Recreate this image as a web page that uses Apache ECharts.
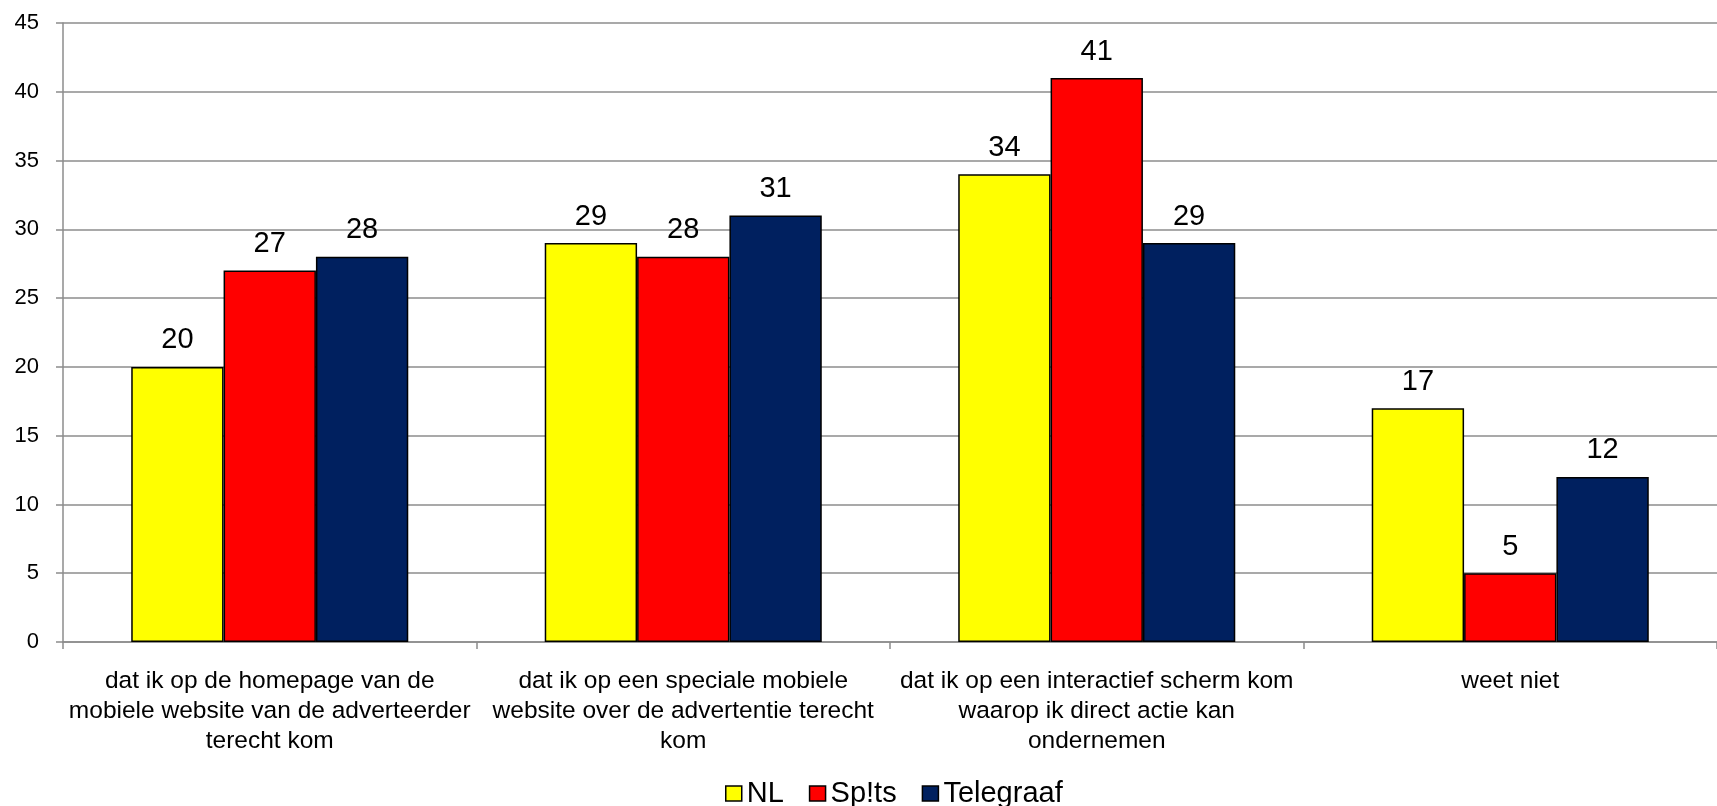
<!DOCTYPE html>
<html>
<head>
<meta charset="utf-8">
<script src="https://cdn.jsdelivr.net/npm/echarts@6/dist/echarts.min.js"></script>
<style>
  html, body { margin: 0; padding: 0; background: #fff; }
  #chart { width: 1717px; height: 806px; }
</style>
</head>
<body>
<div id="chart"></div>
<script>
// Survey answers per newspaper audience (percent)
const categories = [
  'dat ik op de homepage van de\nmobiele website van de adverteerder\nterecht kom',
  'dat ik op een speciale mobiele\nwebsite over de advertentie terecht\nkom',
  'dat ik op een interactief scherm kom\nwaarop ik direct actie kan\nondernemen',
  'weet niet'
];
const seriesNames = ['NL', 'Sp!ts', 'Telegraaf'];
const nlValues = [20, 29, 34, 17];
const spitsValues = [27, 28, 41, 5];
const telegraafValues = [28, 31, 29, 12];
const seriesColors = ['#FFFF00', '#FF0000', '#00205F'];

const chart = echarts.init(document.getElementById('chart'));

const valueLabel = {
  show: true,
  position: 'top',
  distance: 12,
  color: '#000',
  fontFamily: 'Liberation Sans, Arial, sans-serif',
  fontSize: 29
};

function barSeries(name, values, color) {
  return {
    name: name,
    type: 'bar',
    data: values,
    barGap: '0%',
    barCategoryGap: '33%',
    itemStyle: { color: color, borderColor: '#000', borderWidth: 1.5 },
    label: valueLabel,
    emphasis: { disabled: true }
  };
}

chart.setOption({
  animation: false,
  backgroundColor: '#fff',
  grid: { left: 63, top: 23, right: -12, bottom: 164, containLabel: false },
  legend: {
    data: seriesNames,
    bottom: -7,
    left: 720,
    itemWidth: 16,
    itemHeight: 15,
    itemGap: 25,
    itemTextGap: 7,
    icon: 'rect',
    itemStyle: { borderColor: '#000', borderWidth: 1.5 },
    textStyle: { fontFamily: 'Liberation Sans, Arial, sans-serif', fontSize: 29, color: '#000' }
  },
  xAxis: {
    type: 'category',
    data: categories,
    axisLine: { lineStyle: { color: '#8c8c8c', width: 1.5 } },
    axisTick: { show: true, length: 7, lineStyle: { color: '#8c8c8c', width: 1.5 } },
    axisLabel: {
      interval: 0,
      margin: 24,
      color: '#000',
      fontFamily: 'Liberation Sans, Arial, sans-serif',
      fontSize: 24.5,
      lineHeight: 30,
      align: 'center'
    }
  },
  yAxis: {
    type: 'value',
    min: 0,
    max: 45,
    interval: 5,
    axisLine: { show: true, lineStyle: { color: '#8c8c8c', width: 1.5 } },
    axisTick: { show: true, length: 7, lineStyle: { color: '#8c8c8c', width: 1.5 } },
    splitLine: { show: true, lineStyle: { color: '#8c8c8c', width: 1.5 } },
    axisLabel: {
      margin: 24,
      color: '#000',
      fontFamily: 'Liberation Sans, Arial, sans-serif',
      fontSize: 22
    }
  },
  series: [
    barSeries(seriesNames[0], nlValues, seriesColors[0]),
    barSeries(seriesNames[1], spitsValues, seriesColors[1]),
    barSeries(seriesNames[2], telegraafValues, seriesColors[2])
  ]
});
</script>
</body>
</html>
